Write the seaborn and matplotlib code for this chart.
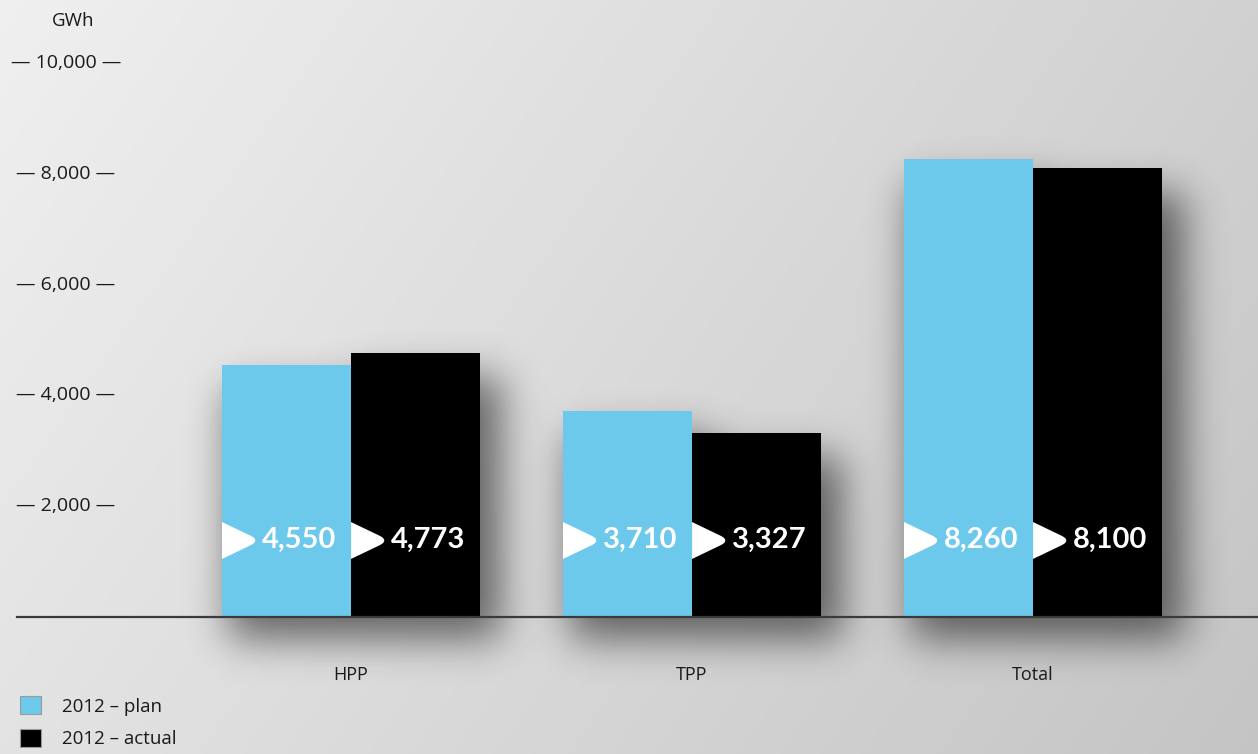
import numpy as np
import pandas as pd
import matplotlib
matplotlib.use("Agg")
import matplotlib.pyplot as plt
import matplotlib.transforms as mtransforms
from matplotlib.path import Path
from matplotlib.patches import Patch
import seaborn as sns

# ---- data -------------------------------------------------------------
categories = ["HPP", "TPP", "Total"]
plan_2012 = [4550, 3710, 8260]
actual_2012 = [4773, 3327, 8100]
series_names = ["2012 – plan", "2012 – actual"]
y_ticks = [2000, 4000, 6000, 8000, 10000]
unit_label = "GWh"

# ---- style ------------------------------------------------------------
sns.set_theme(style="white")
plt.rcParams["font.family"] = ["Open Sans", "DejaVu Sans"]

BLUE = "#6dc9ec"
BLACK = "#000000"
W, H = 1258, 754
fig = plt.figure(figsize=(W / 100, H / 100), dpi=100)

# background gradient + soft shadow layer
bg_ax = fig.add_axes([0, 0, 1, 1], zorder=0)
bg_ax.set_axis_off()
xx, yy = np.meshgrid(np.linspace(0, 1, W), np.linspace(0, 1, H))
shade = 0.94 - 0.12 * xx - 0.05 * yy
bg_ax.imshow(np.dstack([shade, shade, shade + 0.004]).clip(0, 1),
             extent=(0, W, H, 0), aspect="auto", interpolation="bilinear")
bg_ax.set_xlim(0, W)
bg_ax.set_ylim(H, 0)

# main chart
ax = fig.add_axes([17 / W, 1 - 617 / H, (W - 17) / W, (617 - 63) / H], zorder=2)
ax.patch.set_alpha(0)

df = pd.DataFrame({
    "category": categories * 2,
    "value": plan_2012 + actual_2012,
    "series": [series_names[0]] * 3 + [series_names[1]] * 3,
})
sns.barplot(data=df, x="category", y="value", hue="series",
            palette=[BLUE, BLACK], width=0.757, saturation=1,
            linewidth=0, legend=False, ax=ax)

ax.set_xlim(-0.979, 2.66)
ax.set_ylim(0, 10000)
for s in ["left", "right", "top"]:
    ax.spines[s].set_visible(False)
ax.spines["bottom"].set_color("#3a3a3a")
ax.spines["bottom"].set_linewidth(1.6)
ax.set_yticks([])
ax.set_xlabel("")
ax.set_ylabel("")
ax.tick_params(axis="x", length=0, pad=35, labelsize=13, labelcolor="#1a1a1a")

# y tick labels with dashes on both sides
ytrans = mtransforms.blended_transform_factory(fig.transFigure, ax.transData)
for v in y_ticks:
    ax.text(66 / W, v, f"— {v:,} —", transform=ytrans, ha="center",
            va="center", fontsize=14, color="#1a1a1a", clip_on=False)
fig.text(73 / W, 1 - 21 / H, unit_label, ha="center", va="center",
         fontsize=13.5, color="#1a1a1a")

# shadows cast by the bars (blurred mask built from the bar geometry)
mask = np.zeros((H, W))
for p in ax.patches:
    (x0, y0), (x1, y1) = ax.transData.transform(
        [(p.get_x(), 0), (p.get_x() + p.get_width(), p.get_height())])
    r0, r1 = int(H - y1 + 25), int(H - y0 + 22)
    c0, c1 = int(x0 + 8), int(x1 + 22)
    mask[max(r0, 0):min(r1, H), max(c0, 0):min(c1, W)] = 1.0

sigma = 20
k = np.arange(-3 * sigma, 3 * sigma + 1)
kern = np.exp(-0.5 * (k / sigma) ** 2)
kern /= kern.sum()
mask = np.apply_along_axis(lambda r: np.convolve(r, kern, mode="same"), 1, mask)
mask = np.apply_along_axis(lambda c: np.convolve(c, kern, mode="same"), 0, mask)
shadow = np.zeros((H, W, 4))
shadow[..., 3] = mask * 0.55
bg_ax.imshow(shadow, extent=(0, W, H, 0), aspect="auto", interpolation="bilinear")

# value labels: white arrow tab + number inside each bar
verts = [(-1, 1), (0.5, 0.28), (0.9, 0.1), (0.9, -0.1), (0.5, -0.28),
         (-1, -1), (-1, 1)]
codes = [Path.MOVETO, Path.LINETO, Path.CURVE4, Path.CURVE4, Path.CURVE4,
         Path.LINETO, Path.CLOSEPOLY]
tab = Path(verts, codes)
label_y = 1390
values = plan_2012 + actual_2012
for p, v in zip(ax.patches, values):
    mk_tr = ax.transData + mtransforms.ScaledTranslation(18.5 / 100, 0, fig.dpi_scale_trans)
    ax.plot([p.get_x()], [label_y], marker=tab, markersize=26.6,
            color="white", markeredgewidth=0, transform=mk_tr, zorder=5)
    tx_tr = ax.transData + mtransforms.ScaledTranslation(40 / 100, 0, fig.dpi_scale_trans)
    ax.text(p.get_x(), label_y, f"{v:,}", transform=tx_tr, ha="left",
            va="center", fontsize=21, fontweight="bold", color="white",
            family=["Lato", "DejaVu Sans"], zorder=6)

# legend
handles = [Patch(facecolor=BLUE, edgecolor="#9a9a9a", linewidth=0.8),
           Patch(facecolor=BLACK, edgecolor="#9a9a9a", linewidth=0.8)]
fig.legend(handles, series_names, loc="lower left",
           bbox_to_anchor=(20 / W, 6 / H), frameon=False, fontsize=13.5,
           handlelength=1.1, handleheight=1.1, handletextpad=1.15,
           labelspacing=0.7, borderpad=0, borderaxespad=0,
           labelcolor="#1a1a1a")

fig.savefig("out.png", dpi=100)
